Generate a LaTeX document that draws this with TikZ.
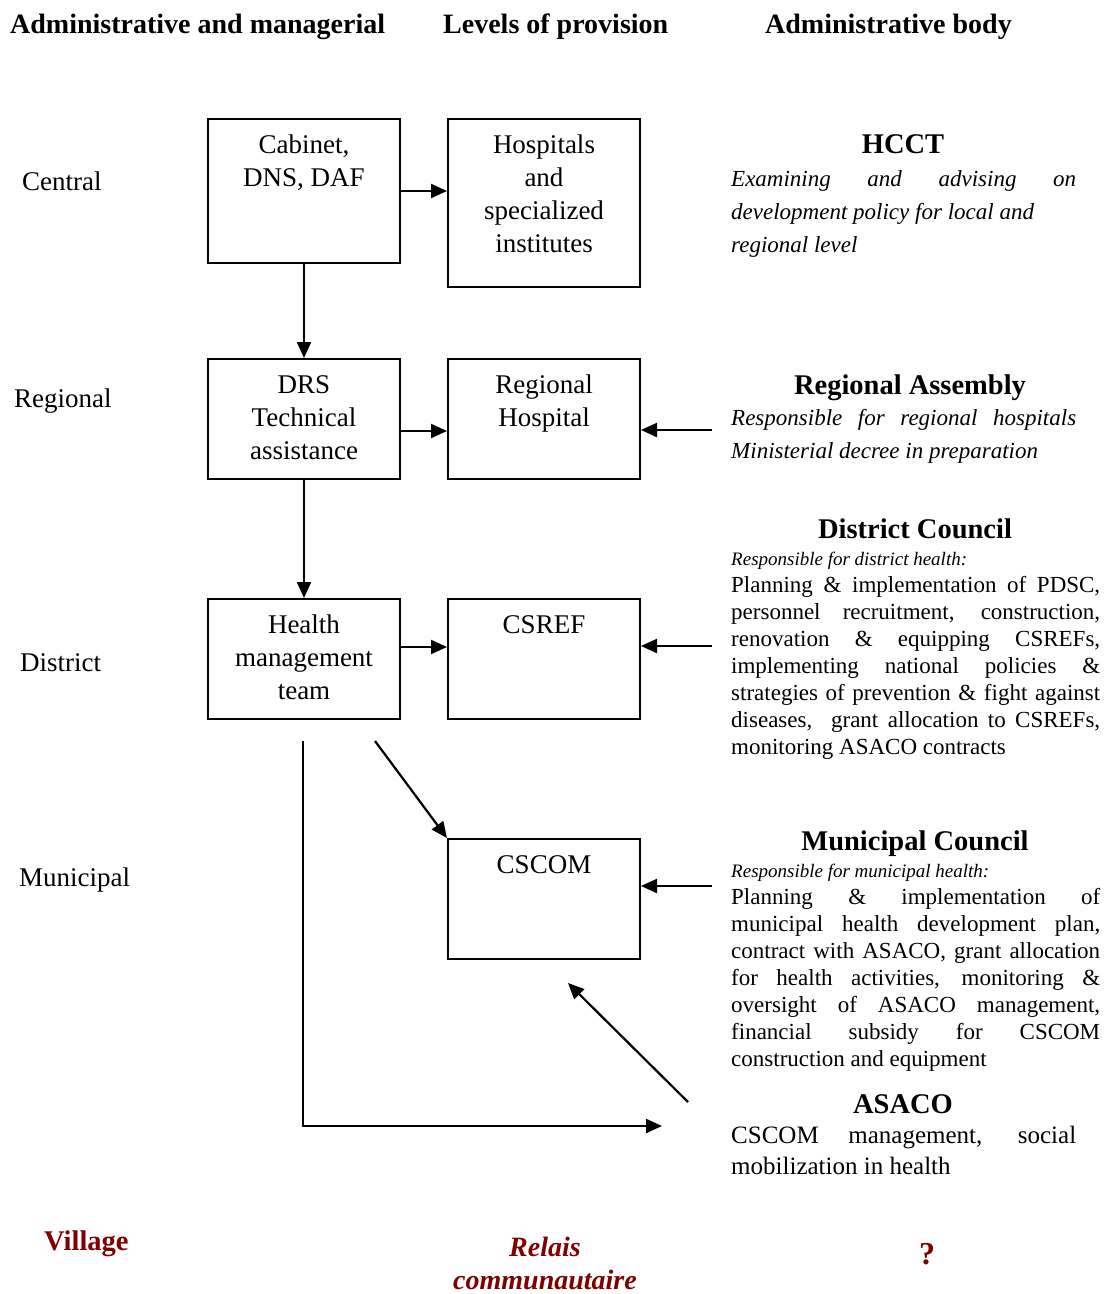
\documentclass[tikz,border=0pt]{standalone}
\usepackage{fontspec}
\setmainfont{Liberation Serif}
\usetikzlibrary{arrows.meta}
\definecolor{myred}{RGB}{128,0,0}
\newcommand\jline[2]{\makebox[#1][s]{#2}}
\begin{document}
\begin{tikzpicture}[x=1pt,y=-1pt,
  box/.style={draw, line width=2pt, minimum width=192pt, minimum height=#1, inner sep=0pt, anchor=north west},
  boxtxt/.style={anchor=north, align=center, inner sep=0pt, font=\fontsize{27}{33}\selectfont},
  lvl/.style={anchor=base west, inner sep=0pt, font=\fontsize{27}{33}\selectfont},
  hdr/.style={anchor=base west, inner sep=0pt, font=\bfseries\fontsize{28}{34}\selectfont},
  hd/.style={anchor=base, inner sep=0pt, font=\bfseries\fontsize{28.5}{34}\selectfont},
  itl/.style={anchor=north west, inner sep=0pt, align=left, font=\itshape\fontsize{23}{33}\selectfont},
  intro/.style={anchor=base west, inner sep=0pt, font=\itshape\fontsize{19}{23}\selectfont},
  body/.style={anchor=north west, inner sep=0pt, align=left, font=\fontsize{23}{27}\selectfont},
  arr/.style={line width=2.2pt, -{Triangle[length=16pt,width=14pt]}},
  village/.style={inner sep=0pt, text=myred, font=\bfseries\fontsize{28.5}{34}\selectfont}
]
\fill[white] (0,0) rectangle (1108,1294);
\useasboundingbox (0,0) rectangle (1108,1294);

% headers
\node[hdr] (h1) at (10,33) {Administrative and managerial};
\node[hdr] (h2) at (443,33) {Levels of provision};
\node[hdr] (h3) at (765,33) {Administrative body};

% level labels
\node[lvl] (lc) at (22,190) {Central};
\node[lvl] (lr) at (14,407) {Regional};
\node[lvl] (ld) at (20,671) {District};
\node[lvl] (lm) at (19,886) {Municipal};

% boxes
\node[box=144pt] (cab) at (207,118) {};
\node[box=168pt] (hosp) at (447,118) {};
\node[box=120pt] (drs) at (207,358) {};
\node[box=120pt] (rh) at (447,358) {};
\node[box=120pt] (hmt) at (207,598) {};
\node[box=120pt] (csref) at (447,598) {};
\node[box=120pt] (cscom) at (447,838) {};

\node[boxtxt] (tcab) at ([yshift=-17pt]cab.north) {Cabinet,\\DNS, DAF};
\node[boxtxt] (thosp) at ([yshift=-17pt]hosp.north) {Hospitals\\and\\specialized\\institutes};
\node[boxtxt] (tdrs) at ([yshift=-17pt]drs.north) {DRS\\Technical\\assistance};
\node[boxtxt] (trh) at ([yshift=-17pt]rh.north) {Regional\\Hospital};
\node[boxtxt] (thmt) at ([yshift=-17pt]hmt.north) {Health\\management\\team};
\node[boxtxt] (tcsref) at ([yshift=-17pt]csref.north) {CSREF};
\node[boxtxt] (tcscom) at ([yshift=-17pt]cscom.north) {CSCOM};

% arrows between boxes
\draw[arr] (cab.east) -- (cab.east -| hosp.west);
\draw[arr] (cab.south) -- (drs.north);
\draw[arr] ([yshift=-12pt]drs.east) -- ([yshift=-12pt]drs.east -| rh.west);
\draw[arr] (drs.south) -- (hmt.north);
\draw[arr] ([yshift=12pt]hmt.east) -- ([yshift=12pt]hmt.east -| csref.west);

% right-side arrows
\coordinate (ra1) at (712,430);
\coordinate (ra2) at (712,646);
\coordinate (ra3) at (712,886);
\draw[arr] (ra1) -- (ra1 -| rh.east);
\draw[arr] (ra2) -- (ra2 -| csref.east);
\draw[arr] (ra3) -- (ra3 -| cscom.east);

% diagonal to CSCOM
\coordinate (d1) at (375,741);
\draw[arr] (d1) -- (cscom.north west);

% L-shaped line
\coordinate (l1) at (303,741);
\coordinate (l2) at (662,1126);
\draw[arr] (l1) |- (l2);

% ASACO arrow
\coordinate (as1) at (688,1102);
\coordinate (as2) at (568,983);
\draw[arr] (as1) -- (as2);

% HCCT
\node[hd] (hcct) at (903,153) {HCCT};
\node[itl] (hcctt) at (731,170) {\jline{345pt}{Examining and advising on}\\development policy for local and\\regional level};

% Regional Assembly
\node[hd] (ra) at (910,394) {Regional Assembly};
\node[itl] (rat) at (731,409) {\jline{345pt}{Responsible for regional hospitals}\\Ministerial decree in preparation};

% District Council
\node[hd] (dc) at (915,538) {District Council};
\node[intro] (dci) at (731,565) {Responsible for district health:};
\node[body] (dct) at (731,576) {\jline{369pt}{Planning \& implementation of PDSC,}\\
\jline{369pt}{personnel recruitment, construction,}\\
\jline{369pt}{renovation \& equipping CSREFs,}\\
\jline{369pt}{implementing national policies \&}\\
\jline{369pt}{strategies of prevention \& fight against}\\
\jline{369pt}{diseases,\ \ grant allocation to CSREFs,}\\
monitoring ASACO contracts};

% Municipal Council
\node[hd] (mc) at (915,850) {Municipal Council};
\node[intro] (mci) at (731,877) {Responsible for municipal health:};
\node[body] (mct) at (731,888) {\jline{369pt}{Planning \& implementation of}\\
\jline{369pt}{municipal health development plan,}\\
\jline{369pt}{contract with ASACO, grant allocation}\\
\jline{369pt}{for health activities, monitoring \&}\\
\jline{369pt}{oversight of ASACO management,}\\
\jline{369pt}{financial subsidy for CSCOM}\\
construction and equipment};

% ASACO
\node[hd] (asaco) at (903,1113) {ASACO};
\node[body, font=\fontsize{25}{31}\selectfont] (asacot) at (731,1126) {\jline{345pt}{CSCOM management, social}\\mobilization in health};

% Village row
\node[village, anchor=base west] (vil) at (44,1250) {Village};
\node[village, anchor=north, align=center, font=\bfseries\itshape\fontsize{28}{33}\selectfont] (relais) at (545,1237) {Relais\\communautaire};
\node[village, anchor=base, font=\bfseries\fontsize{32}{36}\selectfont] (q) at (927,1264) {?};
\end{tikzpicture}
\end{document}
